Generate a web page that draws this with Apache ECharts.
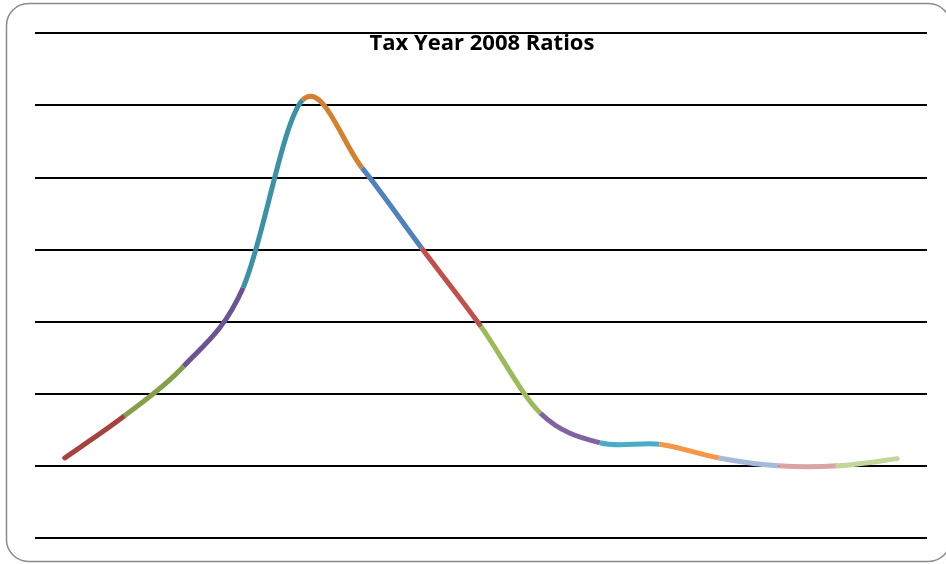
<!DOCTYPE html>
<html>
<head>
<meta charset="utf-8">
<script src="https://cdn.jsdelivr.net/npm/echarts@6/dist/echarts.min.js"></script>
<style>
html, body { margin: 0; padding: 0; background: #fff; }
#chart { width: 946px; height: 564px; }
</style>
</head>
<body>
<div id="chart"></div>
<script>
var categories = ['1', '2', '3', '4', '5', '6', '7', '8', '9', '10', '11', '12', '13', '14', '15'];
var ratios = [0.111, 0.169, 0.238, 0.347, 0.607, 0.513, 0.402, 0.293, 0.173, 0.132, 0.130, 0.111, 0.100, 0.100, 0.110];
var segmentColors = ['#A6423E', '#86A04A', '#6B5491', '#3B91A6', '#D57F30', '#4F81BD', '#C0504D',
    '#9BBB59', '#8064A2', '#4BACC6', '#F79646', '#A7B9D8', '#D9A4A3', '#C4D79B'];

// Excel-like smoothing: each segment is a bezier with Catmull-Rom tangents (1/6)
function renderSegment(params, api) {
    var i = params.dataIndex;
    var n = ratios.length;
    if (i >= n - 1) return;
    var p = function (k) {
        k = Math.max(0, Math.min(n - 1, k));
        return api.coord([k, ratios[k]]);
    };
    var p0 = p(i - 1), p1 = p(i), p2 = p(i + 1), p3 = p(i + 2);
    var ends = (i === 0 || i === n - 2);
    return {
        type: 'bezierCurve',
        shape: {
            x1: p1[0], y1: p1[1],
            x2: p2[0], y2: p2[1],
            cpx1: p1[0] + (p2[0] - p0[0]) / 6,
            cpy1: p1[1] + (p2[1] - p0[1]) / 6,
            cpx2: p2[0] - (p3[0] - p1[0]) / 6,
            cpy2: p2[1] - (p3[1] - p1[1]) / 6
        },
        style: {
            fill: null,
            stroke: segmentColors[i],
            lineWidth: 5,
            lineCap: ends ? 'round' : 'butt'
        }
    };
}

var myChart = echarts.init(document.getElementById('chart'));

myChart.setOption({
    animation: false,
    title: {
        text: 'Tax Year 2008 Ratios',
        left: 477,
        top: 28,
        textAlign: 'center',
        textStyle: {
            fontFamily: 'Open Sans',
            fontWeight: 'bold',
            fontSize: 22,
            color: '#000'
        }
    },
    graphic: [{
        type: 'rect',
        shape: { x: 6.5, y: 3.5, width: 944, height: 558, r: 22 },
        style: { fill: 'none', stroke: '#8a8a8a', lineWidth: 1.5 },
        silent: true
    }],
    grid: {
        left: 35,
        right: 19,
        top: 33,
        bottom: 26
    },
    xAxis: {
        type: 'category',
        data: categories,
        boundaryGap: true,
        axisLine: { show: false },
        axisTick: { show: false },
        axisLabel: { show: false }
    },
    yAxis: {
        type: 'value',
        min: 0,
        max: 0.7,
        interval: 0.1,
        axisLine: { show: false },
        axisTick: { show: false },
        axisLabel: { show: false },
        splitLine: { lineStyle: { color: '#000', width: 2 } }
    },
    series: [{
        name: 'Ratios',
        type: 'custom',
        renderItem: renderSegment,
        data: ratios.map(function (v, i) { return [i, v]; }),
        encode: { x: 0, y: 1 }
    }]
});
</script>
</body>
</html>
